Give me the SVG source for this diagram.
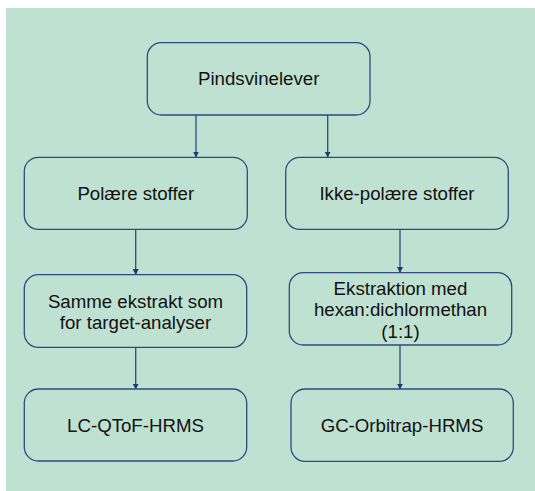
<svg xmlns="http://www.w3.org/2000/svg" width="535" height="491" viewBox="0 0 535 491">
<defs>
<style>
.box{fill:#bfe1d2;stroke:#2f4a7f;stroke-width:1.3}
.t{font-family:"Liberation Sans",Arial,sans-serif;font-size:18.67px;fill:#111;text-anchor:middle}
.c{stroke:#2f4a7f;stroke-width:1.3;fill:none;marker-end:url(#ah)}
</style>
<marker id="ah" viewBox="0 0 10 10" refX="9" refY="5" markerWidth="6" markerHeight="6" markerUnits="userSpaceOnUse" orient="auto">
<path d="M0,0 L10,5 L0,10 z" fill="#1f3a6e"/>
</marker>
</defs>
<rect x="6" y="8" width="529" height="483" fill="#bfe1d2"/>
<g id="connectors">
<line class="c" x1="196" y1="115" x2="196" y2="157"/>
<line class="c" x1="327.7" y1="115" x2="327.7" y2="157"/>
<line class="c" x1="135.7" y1="229.3" x2="135.7" y2="274.5"/>
<line class="c" x1="400" y1="229.3" x2="400" y2="272.5"/>
<line class="c" x1="135.7" y1="347.3" x2="135.7" y2="389"/>
<line class="c" x1="400" y1="345" x2="400" y2="389"/>
</g>
<g id="n1"><rect class="box" x="147.3" y="42.7" width="222.7" height="72.3" rx="14"/><text class="t" x="258.7" y="85">Pindsvinelever</text></g>
<g id="n2"><rect class="box" x="24.3" y="157.3" width="223" height="72" rx="14"/><text class="t" x="135.8" y="200">Polære stoffer</text></g>
<g id="n3"><rect class="box" x="285.7" y="157.3" width="222.6" height="72" rx="14"/><text class="t" x="397" y="200">Ikke-polære stoffer</text></g>
<g id="n4"><rect class="box" x="24.3" y="274.7" width="222.4" height="72.6" rx="14"/><text class="t" x="135.5" y="307.5">Samme ekstrakt som</text><text class="t" x="135.5" y="328.5">for target-analyser</text></g>
<g id="n5"><rect class="box" x="289.3" y="272.7" width="222.4" height="72.3" rx="14"/><text class="t" x="400.5" y="295">Ekstraktion med</text><text class="t" x="400.5" y="316">hexan:dichlormethan</text><text class="t" x="400.5" y="338">(1:1)</text></g>
<g id="n6"><rect class="box" x="24.3" y="389" width="222.4" height="72" rx="14"/><text class="t" x="135.5" y="432">LC-QToF-HRMS</text></g>
<g id="n7"><rect class="box" x="291" y="389" width="222.3" height="72.3" rx="14"/><text class="t" x="402" y="432">GC-Orbitrap-HRMS</text></g>
</svg>
